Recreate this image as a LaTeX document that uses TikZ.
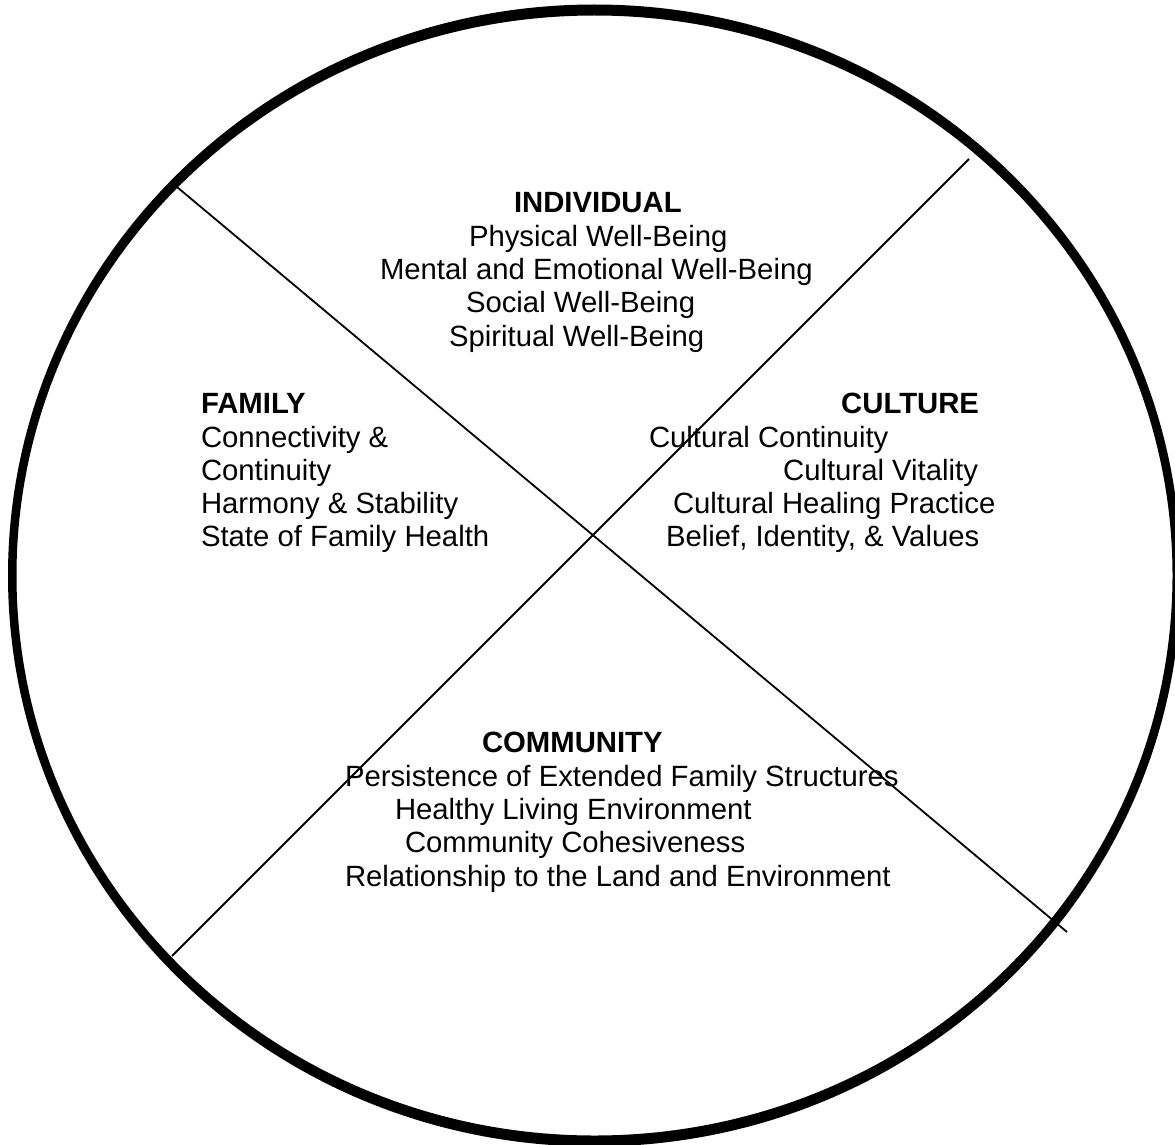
\documentclass[tikz,border=0pt]{standalone}
\usepackage{fontspec}
\setmainfont{Liberation Sans}
\begin{document}
\begin{tikzpicture}[x=1pt,y=-1pt,
  every node/.style={inner sep=0pt,outer sep=0pt,font=\fontsize{29.3}{33.4}\selectfont},
  head/.style={font=\fontsize{29.3}{33.4}\selectfont\bfseries},
  divider/.style={line width=1.8pt}]
\useasboundingbox (0,0) rectangle (1175,1145);
\clip (0,0) rectangle (1175,1145);
\fill[white] (0,0) rectangle (1175,1145);
% outer circle (rim thicker at top and bottom)
\coordinate (ctr) at (594.5,575.5);
\fill[black,even odd rule] (ctr) ellipse [x radius=586.5, y radius=571]
                           (ctr) ellipse [x radius=578, y radius=560];
% dividers
\coordinate (a1) at (177,187);
\coordinate (a2) at (1067,932);
\coordinate (b1) at (969,159);
\coordinate (b2) at (172,956);
\draw[divider] (a1) -- (a2);
\draw[divider] (b1) -- (b2);
% individual
\node[head,anchor=base west] (ind) at (514,212) {INDIVIDUAL};
\node[anchor=base west] (ind1) at (469,246) {Physical Well-Being};
\node[anchor=base west] (ind2) at (380,279) {Mental and Emotional Well-Being};
\node[anchor=base west] (ind3) at (466,312) {Social Well-Being};
\node[anchor=base west] (ind4) at (449,346) {Spiritual Well-Being};
% family
\node[head,anchor=base west] (fam) at (201,413) {FAMILY};
\node[anchor=base west] (fam1) at (201,447) {Connectivity \&};
\node[anchor=base west] (fam2) at (201,480) {Continuity};
\node[anchor=base west] (fam3) at (201,513) {Harmony \& Stability};
\node[anchor=base west] (fam4) at (201,546) {State of Family Health};
% culture
\node[head,anchor=base east] (cul) at (979,413) {CULTURE};
\node[anchor=base west] (cul1) at (649,447) {Cultural Continuity};
\node[anchor=base east] (cul2) at (978,480) {Cultural Vitality};
\node[anchor=base west] (cul3) at (673,513) {Cultural Healing Practice};
\node[anchor=base west] (cul4) at (666,546) {Belief, Identity, \& Values};
% community
\node[head,anchor=base west] (com) at (482,752) {COMMUNITY};
\node[anchor=base west] (com1) at (345,786) {Persistence of Extended Family Structures};
\node[anchor=base west] (com2) at (395,819) {Healthy Living Environment};
\node[anchor=base west] (com3) at (405,852) {Community Cohesiveness};
\node[anchor=base west] (com4) at (345,886) {Relationship to the Land and Environment};
\end{tikzpicture}
\end{document}
